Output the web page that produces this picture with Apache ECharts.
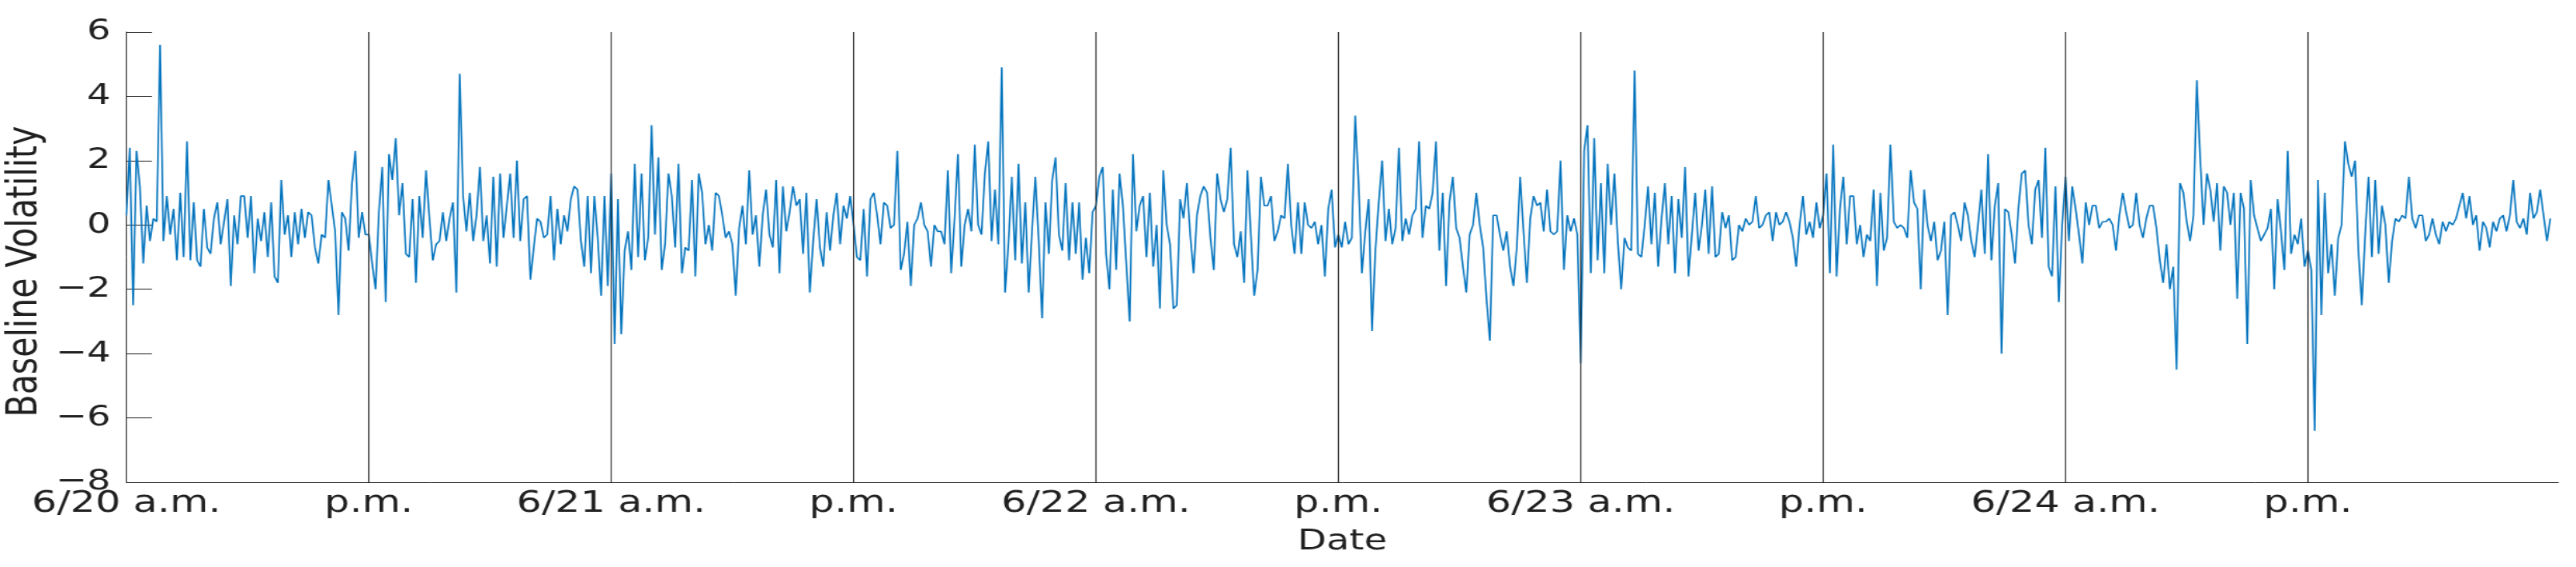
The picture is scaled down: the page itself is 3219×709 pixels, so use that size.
<!DOCTYPE html>
<html>
<head>
<meta charset="utf-8">
<title>Baseline Volatility</title>
<script src="https://cdn.jsdelivr.net/npm/echarts@6.0.0/dist/echarts.min.js"></script>
<style>
  html, body { margin: 0; padding: 0; background: #fff; overflow: hidden; }
  /* the reference figure is stretched sideways, so the chart is drawn narrow and scaled in x */
  #chart { width: 2476px; height: 709px; transform: scaleX(1.3); transform-origin: 0 0; }
</style>
</head>
<body>
<div id="chart"></div>
<script>
// one array per half day, samples every 10 minutes
const am0620 = [
  0.3, 2.4, -2.5, 2.3, 1.2, -1.2, 0.6, -0.5, 0.2, 0.1,
  5.6, -0.5, 0.9, -0.3, 0.5, -1.1, 1.0, -1.0, 2.6, -1.1,
  0.7, -1.1, -1.3, 0.5, -0.7, -0.9, 0.2, 0.7, -0.6, 0.1,
  0.8, -1.9, 0.3, -0.6, 0.9, 0.9, -0.4, 0.9, -1.5, 0.2,
  -0.5, 0.4, -1.0, 0.7, -1.6, -1.8, 1.4, -0.3, 0.3, -1.0,
  0.4, -0.6, 0.5, -0.4, 0.4, 0.3, -0.7, -1.2, -0.3, -0.4,
  1.4, 0.6, -0.2, -2.8, 0.4, 0.2, -0.8, 1.3, 2.3, -0.4,
  0.4, -0.3
];
const pm0620 = [
  -0.3, -1.2, -2.0, 0.4, 1.8, -2.4, 2.2, 1.4, 2.7, 0.3,
  1.3, -0.9, -1.0, 0.8, -1.8, 0.9, -0.4, 1.7, 0.2, -1.1,
  -0.6, -0.5, 0.4, -0.5, 0.2, 0.7, -2.1, 4.7, 0.9, -0.2,
  1.0, -0.5, 0.3, 1.8, -0.5, 0.3, -1.2, 1.5, -1.3, 1.6,
  -0.4, 0.6, 1.6, -0.4, 2.0, -0.5, 0.8, 0.9, -1.7, -0.7,
  0.2, 0.1, -0.4, -0.3, 0.9, -1.1, 0.5, -0.6, 0.3, -0.2,
  0.8, 1.2, 1.1, -0.5, -1.3, 0.9, -1.5, 0.9, -0.4, -2.2,
  0.9, -1.9
];
const am0621 = [
  1.6, -3.7, 0.8, -3.4, -0.8, -0.2, -1.4, 1.9, -1.0, 1.6,
  -1.1, -0.4, 3.1, -0.3, 2.1, -1.4, -0.6, 1.6, 0.9, -0.7,
  1.9, -1.5, -0.7, -0.8, 1.4, -1.6, 1.6, 1.0, -0.6, 0.0,
  -0.8, 1.0, 0.9, 0.3, -0.4, -0.2, -0.6, -2.2, -0.1, 0.6,
  -0.6, 1.7, -0.3, 0.3, -1.3, 0.3, 1.1, -0.3, -0.7, 1.4,
  -1.5, 1.2, -0.2, 0.4, 1.2, 0.6, 0.8, -0.9, 1.0, -2.1,
  -0.5, 0.8, -0.7, -1.3, 0.4, -0.8, 0.3, 1.0, -0.6, 0.6,
  0.2, 0.9
];
const pm0621 = [
  0.0, -1.0, -1.1, 0.5, -1.6, 0.8, 1.0, 0.3, -0.6, 0.7,
  0.6, -0.1, 0.0, 2.3, -1.4, -0.9, 0.1, -1.9, 0.0, 0.2,
  0.7, 0.0, -0.2, -1.3, 0.0, -0.2, -0.2, -0.6, 1.7, -1.5,
  0.2, 2.2, -1.3, 0.0, 0.5, -0.2, 2.5, 0.0, -0.3, 1.6,
  2.6, -0.5, 1.1, -0.6, 4.9, -2.1, -0.6, 1.5, -1.1, 1.9,
  -1.2, 0.7, -2.1, -0.2, 1.5, -0.5, -2.9, 0.7, -0.9, 1.4,
  2.1, -0.3, -0.8, 1.3, -1.1, 0.7, -0.9, 0.7, -1.7, -0.4,
  -1.5, 0.4
];
const am0622 = [
  0.6, 1.5, 1.8, -0.9, -2.0, 1.1, -1.4, 1.6, 0.6, -1.2,
  -3.0, 2.2, -0.2, 0.6, 0.9, -1.0, 1.0, -1.3, 0.0, -2.6,
  1.7, 0.0, -0.6, -2.6, -2.5, 0.8, 0.2, 1.3, -0.3, -1.5,
  0.3, 0.9, 1.2, 1.0, -0.4, -1.4, 1.6, 0.8, 0.4, 0.8,
  2.4, -0.6, -1.0, -0.2, -1.8, 1.7, -0.3, -2.2, -1.4, 1.5,
  0.6, 0.6, 0.9, -0.5, -0.2, 0.3, 0.2, 1.9, 0.0, -0.9,
  0.7, -0.9, 0.7, 0.0, -0.1, 0.1, -0.6, 0.0, -1.6, 0.5,
  1.1, -0.7
];
const pm0622 = [
  -0.3, -0.7, 0.1, -0.6, -0.4, 3.4, 1.3, -1.5, -0.2, 0.8,
  -3.3, -0.8, 0.7, 2.0, -0.5, 0.5, -0.6, -0.1, 2.4, -0.5,
  0.2, -0.3, 0.3, 0.5, 2.6, -0.4, 0.6, 0.5, 1.0, 2.6,
  -0.8, 1.0, -1.9, 0.7, 1.5, -0.1, -0.4, -1.3, -2.1, -0.3,
  0.0, 1.0, 0.0, -0.7, -2.3, -3.6, 0.3, 0.3, -0.3, -0.8,
  -0.2, -1.3, -1.9, -0.7, 1.5, -0.2, -1.8, 0.2, 0.9, 0.6,
  0.7, -0.2, 1.1, -0.2, -0.3, -0.2, 2.0, -1.4, 0.3, -0.2,
  0.2, -0.3
];
const am0623 = [
  -4.3, 2.3, 3.1, -1.5, 2.7, -1.1, 1.3, -1.5, 1.9, 0.0,
  1.6, -0.5, -2.0, -0.4, -0.7, -0.8, 4.8, -0.9, -1.0, 0.0,
  1.2, -0.6, 1.0, -1.3, 0.2, 1.3, -0.6, 0.9, -1.5, 0.8,
  -0.4, 1.8, -1.6, -0.3, 1.0, -0.8, 0.0, 1.1, -0.9, 1.2,
  -1.0, -0.9, 0.4, -0.1, 0.3, -1.1, -1.0, 0.0, -0.2, 0.2,
  0.0, 0.1, 0.9, -0.1, 0.0, 0.3, 0.4, -0.5, 0.4, 0.0,
  0.1, 0.4, 0.1, -0.4, -1.3, 0.0, 0.9, -0.3, 0.1, -0.4,
  0.7, -0.1
];
const pm0623 = [
  0.3, 1.6, -1.5, 2.5, -1.6, 0.5, 1.5, -0.6, 0.9, 0.9,
  -0.6, 0.0, -1.0, -0.3, -0.5, 1.1, -1.9, 1.0, -0.8, -0.4,
  2.5, 0.1, -0.1, 0.0, -0.1, -0.4, 1.7, 0.7, 0.5, -2.0,
  1.1, 0.0, -0.5, 0.1, -1.1, -0.8, 0.1, -2.8, 0.3, 0.4,
  0.0, -0.5, 0.7, 0.3, -0.5, -1.0, 0.0, 1.1, -0.9, 2.2,
  -1.1, 0.6, 1.3, -4.0, 0.5, 0.4, -0.3, -1.2, 0.5, 1.6,
  1.7, 0.0, -0.6, 1.1, 1.4, -0.4, 2.4, -1.3, -1.6, 1.2,
  -2.4, 0.0
];
const am0624 = [
  1.5, -0.5, 1.2, 0.5, -0.3, -1.2, 0.7, 0.0, 0.6, 0.6,
  -0.1, 0.1, 0.1, 0.2, 0.0, -0.8, 0.3, 1.0, 0.4, -0.1,
  0.0, 1.0, 0.0, -0.4, 0.2, 0.6, 0.6, -0.1, -1.1, -1.8,
  -0.6, -2.0, -1.3, -4.5, 1.3, 1.0, 0.1, -0.5, 0.3, 4.5,
  2.1, 0.0, 1.6, 1.1, 0.1, 1.3, -0.8, 1.2, 1.0, 0.0,
  1.0, -2.3, 1.0, 0.5, -3.7, 1.4, 0.3, -0.1, -0.5, -0.3,
  -0.1, 0.5, -2.0, 0.8, -0.2, -1.4, 2.3, -0.9, -0.3, -0.6,
  0.2, -1.3
];
const pm0624 = [
  -0.8, -1.4, -6.4, 1.4, -2.8, 1.0, -1.5, -0.6, -2.2, -0.4,
  0.0, 2.6, 1.9, 1.5, 2.0, -0.8, -2.5, -0.3, 1.5, -1.0,
  1.4, -0.9, 0.6, 0.0, -1.8, -0.5, 0.2, 0.1, 0.3, 0.2,
  1.5, 0.2, -0.1, 0.3, 0.3, -0.5, -0.3, 0.2, -0.3, -0.6,
  0.1, -0.2, 0.1, 0.0, 0.2, 0.6, 1.0, 0.2, 0.9, 0.0,
  0.3, -0.8, 0.1, -0.1, -0.7, 0.1, -0.2, 0.2, 0.3, -0.2,
  0.3, 1.4, 0.1, -0.1, 0.2, -0.3, 1.0, 0.2, 0.4, 1.1,
  0.3, -0.5, 0.2
];

const halfDays = [am0620, pm0620, am0621, pm0621, am0622, pm0622, am0623, pm0623, am0624, pm0624];
const tickHours = [0, 12, 24, 36, 48, 60, 72, 84, 96, 108];
const tickLabels = ["6/20 a.m.", "p.m.", "6/21 a.m.", "p.m.", "6/22 a.m.", "p.m.", "6/23 a.m.", "p.m.", "6/24 a.m.", "p.m."];

const HALF_DAY = 12;     // hours
const STEP = 10 / 60;    // 10 minute samples, in hours
const X_MAX = 120.4;

const points = [];
halfDays.forEach((values, h) => {
  values.forEach((v, k) => points.push([h * HALF_DAY + k * STEP, v]));
});

const ink = "#1f1f1f";
const font = "DejaVu Sans";

const chart = echarts.init(document.getElementById("chart"), null, { renderer: "canvas" });

chart.setOption({
  animation: false,
  backgroundColor: "#ffffff",
  grid: { left: 121.5, right: 16.8, top: 40, bottom: 106, outerBoundsMode: "none" },
  xAxis: {
    type: "value",
    min: 0,
    max: X_MAX,
    interval: HALF_DAY,
    name: "Date",
    nameLocation: "middle",
    nameGap: 57,
    nameMoveOverlap: false,
    nameTextStyle: { color: ink, fontSize: 36, fontFamily: font },
    axisLine: { show: true, onZero: false, lineStyle: { color: ink, width: 1 } },
    axisTick: { show: true, inside: true, length: 22, customValues: tickHours, lineStyle: { color: ink } },
    axisLabel: {
      color: ink,
      fontSize: 38,
      fontFamily: font,
      margin: 8,
      customValues: tickHours,
      formatter: (v) => tickLabels[Math.round(v / HALF_DAY)] ?? "",
    },
    splitLine: { show: false },
  },
  yAxis: {
    type: "value",
    min: -8,
    max: 6,
    interval: 2,
    name: "Baseline Volatility",
    nameLocation: "middle",
    nameGap: 77,
    nameMoveOverlap: false,
    nameTextStyle: { color: ink, fontSize: 41, fontFamily: font, padding: [0, 36, 0, 0] },
    axisLine: { show: true, onZero: false, lineStyle: { color: ink, width: 1 } },
    axisTick: { show: true, inside: true, length: 24.6, lineStyle: { color: ink } },
    axisLabel: {
      color: ink,
      fontSize: 36,
      fontFamily: font,
      margin: 15,
      formatter: (v) => String(v).replace("-", "\u2212"),
    },
    splitLine: { show: false },
  },
  series: [
    {
      type: "line",
      data: points,
      showSymbol: false,
      symbol: "none",
      sampling: null,
      lineStyle: { color: "#0072BD", width: 1.6 },
      z: 3,
      markLine: {
        silent: true,
        symbol: ["none", "none"],
        label: { show: false },
        lineStyle: { color: "#262626", width: 1.1, type: "solid" },
        data: tickHours.slice(1).map((h) => ({ xAxis: h })),
      },
    },
  ],
});
</script>
</body>
</html>
